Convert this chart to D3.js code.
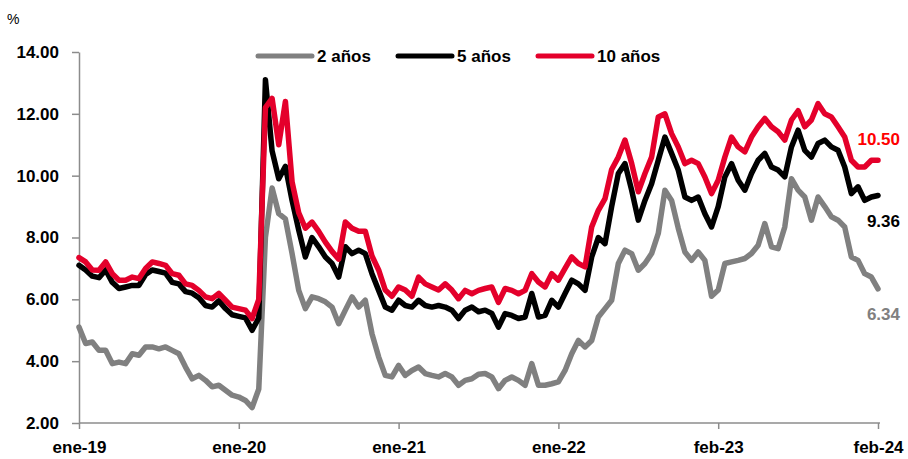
<!DOCTYPE html>
<html>
<head>
<meta charset="utf-8">
<script src="https://cdn.jsdelivr.net/npm/d3@7"></script>
<style>
  body { margin: 0; background: #fff; }
  text { font-family: "Liberation Sans", Arial, sans-serif; font-weight: bold; }
</style>
</head>
<body>
<div id="chart"></div>
<script>
// Tick labels (evenly spaced, one every 24 points)
const tickLabels = ["ene-19", "ene-20", "ene-21", "ene-22", "feb-23", "feb-24"];
const tickIndex = [0, 24, 48, 72, 96, 120];
const yTicks = [2, 4, 6, 8, 10, 12, 14];

// Yields (%), roughly two points per month
const y2 = [
  5.1, 4.57, 4.62, 4.35, 4.35, 3.92, 3.97, 3.92, 4.24, 4.19,
  4.46, 4.46, 4.4, 4.46, 4.35, 4.24, 3.81, 3.43, 3.54, 3.38,
  3.17, 3.22, 3.06, 2.9, 2.84, 2.73, 2.5, 3.1, 8.0, 9.6,
  8.77, 8.6, 7.48, 6.29, 5.7, 6.08, 6.02, 5.92, 5.75, 5.21,
  5.65, 6.08, 5.75, 5.97, 4.89, 4.14, 3.54, 3.49, 3.86, 3.54,
  3.7, 3.81, 3.6, 3.54, 3.49, 3.6, 3.49, 3.22, 3.38, 3.43,
  3.58, 3.6, 3.49, 3.11, 3.38, 3.49, 3.38, 3.22, 3.92, 3.22,
  3.22, 3.27, 3.33, 3.7, 4.24, 4.67, 4.46, 4.67, 5.43, 5.7,
  5.97, 7.16, 7.59, 7.48, 6.94, 7.16, 7.48, 8.13, 9.53, 9.2,
  8.3, 7.53, 7.26, 7.53, 7.26, 6.1, 6.3, 7.16, 7.21, 7.26,
  7.32, 7.48, 7.75, 8.45, 7.7, 7.64, 8.34, 9.9, 9.53, 9.31,
  8.56, 9.31, 9.0, 8.67, 8.56, 8.34, 7.37, 7.26, 6.83, 6.72,
  6.34
];
const y5 = [
  7.1, 6.95, 6.75, 6.7, 6.95, 6.55, 6.35, 6.4, 6.45, 6.45,
  6.8, 6.95, 6.9, 6.85, 6.55, 6.5, 6.25, 6.2, 6.05, 5.8,
  5.75, 5.95, 5.7, 5.5, 5.45, 5.4, 5.0, 5.4, 13.1, 10.8,
  9.9, 10.3, 9.2, 8.24, 7.37, 8.0, 7.7, 7.37, 7.16, 6.72,
  7.7, 7.48, 7.59, 7.48, 6.83, 6.29, 5.75, 5.65, 5.97, 5.8,
  5.75, 5.97, 5.8, 5.75, 5.8, 5.75, 5.65, 5.38, 5.65, 5.75,
  5.6, 5.65, 5.54, 5.1, 5.54, 5.48, 5.38, 5.43, 6.19, 5.43,
  5.48, 5.97, 5.75, 6.19, 6.62, 6.5, 6.29, 7.37, 8.0, 7.8,
  9.0, 10.07, 10.39, 9.53, 8.56, 9.2, 9.74, 10.5, 11.25, 10.72,
  10.18, 9.31, 9.2, 9.31, 8.77, 8.34, 9.0, 9.96, 10.39, 9.85,
  9.53, 10.07, 10.5, 10.72, 10.28, 10.18, 9.96, 10.93, 11.47, 10.82,
  10.6, 11.04, 11.15, 10.93, 10.82, 10.28, 9.42, 9.64, 9.2, 9.31,
  9.36
];
const y10 = [
  7.35, 7.21, 6.95, 6.94, 7.21, 6.83, 6.62, 6.62, 6.72, 6.67,
  7.0, 7.21, 7.16, 7.1, 6.83, 6.78, 6.5, 6.45, 6.29, 6.08,
  6.02, 6.19, 5.97, 5.75, 5.7, 5.65, 5.38, 6.0, 12.2, 12.5,
  11.0, 12.4, 9.8, 8.8, 8.3, 8.5, 8.2, 7.85, 7.55, 7.3,
  8.5, 8.3, 8.2, 8.2, 7.4, 6.95, 6.3, 6.1, 6.4, 6.3,
  6.1, 6.72, 6.5, 6.4, 6.3, 6.5, 6.3, 6.02, 6.29, 6.18,
  6.29, 6.35, 6.4, 5.9, 6.35, 6.29, 6.18, 6.29, 6.83, 6.56,
  6.4, 6.83, 6.62, 7.0, 7.37, 7.16, 7.05, 8.34, 8.88, 9.26,
  10.2, 10.6, 11.15, 10.4, 9.48, 10.07, 10.6, 11.9, 12.0, 11.36,
  10.93, 10.39, 10.5, 10.39, 9.96, 9.42, 9.85, 10.6, 11.25, 10.93,
  10.77, 11.25, 11.58, 11.85, 11.58, 11.42, 11.15, 11.8, 12.1, 11.58,
  11.8, 12.33, 12.0, 11.9, 11.58, 11.25, 10.5, 10.28, 10.28, 10.5,
  10.50
];

const series = [
  {name: "2 años", values: y2, color: "#808080", label: "#808080"},
  {name: "5 años", values: y5, color: "#000000", label: "#000000"},
  {name: "10 años", values: y10, color: "#e4002b", label: "#ff0000"}
];

const W = 908, H = 459;
const margin = {top: 52, right: 30, bottom: 36, left: 79};
const width = 878 - margin.left;
const height = 423 - margin.top;

const svg = d3.select("#chart")
    .append("svg")
    .attr("width", W)
    .attr("height", H);

const g = svg.append("g")
    .attr("transform", "translate(" + margin.left + "," + margin.top + ")");

// Scales
const x = d3.scaleLinear().domain([0, 120]).range([0, width]);
const y = d3.scaleLinear().domain([2, 14]).range([height, 0]);

// Axes
const xAxis = d3.axisBottom(x)
    .tickValues(tickIndex)
    .tickFormat((d, i) => tickLabels[i])
    .tickSize(6)
    .tickSizeOuter(0)
    .tickPadding(12);

const yAxis = d3.axisLeft(y)
    .tickValues(yTicks)
    .tickFormat(d3.format(".2f"))
    .tickSize(7)
    .tickSizeOuter(0)
    .tickPadding(13);

const gx = g.append("g")
    .attr("transform", "translate(0," + height + ")")
    .call(xAxis);
gx.select(".domain").attr("d", "M0,0H" + (width + 2));

const gy = g.append("g").call(yAxis);

g.selectAll(".domain, .tick line")
    .attr("stroke", "#8c8c8c")
    .attr("stroke-width", 1.5);
g.selectAll(".tick text")
    .attr("fill", "#000")
    .style("font-size", "17px");

// "%" unit label
svg.append("text")
    .attr("x", 7)
    .attr("y", 24)
    .style("font-size", "14px")
    .style("font-weight", "normal")
    .text("%");

// Lines
const line = d3.line()
    .x((d, i) => x(i))
    .y(d => y(d));

g.selectAll(".line")
    .data(series)
    .join("path")
    .attr("class", "line")
    .attr("d", d => line(d.values))
    .attr("fill", "none")
    .attr("stroke", d => d.color)
    .attr("stroke-width", 5.5)
    .attr("stroke-linejoin", "round")
    .attr("stroke-linecap", "round");

// End-value labels
const endY = [320, 227, 145];
svg.selectAll(".endlabel")
    .data(series)
    .join("text")
    .attr("class", "endlabel")
    .attr("x", 900)
    .attr("y", (d, i) => endY[i])
    .attr("text-anchor", "end")
    .attr("fill", d => d.label)
    .style("font-size", "17px")
    .text(d => d.values[d.values.length - 1].toFixed(2));

// Legend
const legendX = [258, 398, 538];
const legend = svg.selectAll(".legend")
    .data(series)
    .join("g")
    .attr("class", "legend")
    .attr("transform", (d, i) => "translate(" + legendX[i] + ",56)");

legend.append("line")
    .attr("x1", 0)
    .attr("x2", 54)
    .attr("stroke", d => d.color)
    .attr("stroke-width", 5)
    .attr("stroke-linecap", "round");

legend.append("text")
    .attr("x", 59)
    .attr("y", 6)
    .style("font-size", "17px")
    .text(d => d.name);
</script>
</body>
</html>
